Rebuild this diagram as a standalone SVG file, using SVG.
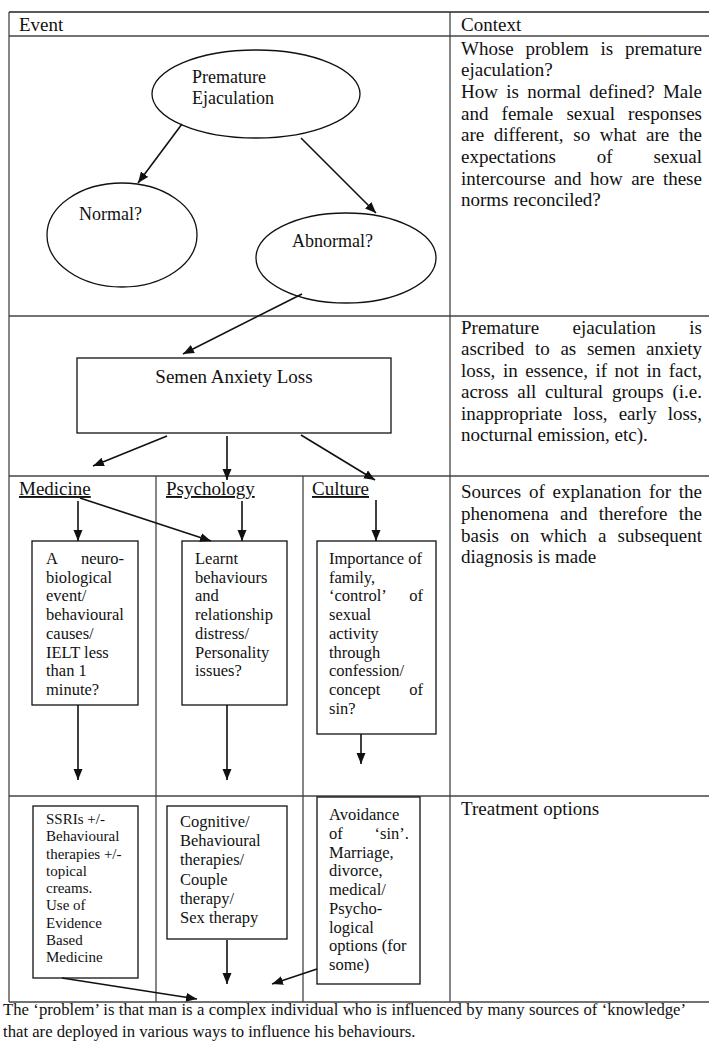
<svg xmlns="http://www.w3.org/2000/svg" width="709" height="1046" viewBox="0 0 709 1046">
<style>
  .t { font-family: "Liberation Serif", "Times New Roman", serif; fill: #111; }
  .h { font-size: 19px; }
  .e { font-size: 18px; }
  .b { font-size: 16.5px; }
  .s { font-size: 15px; }
  .f { font-size: 16.7px; }
  .u { text-decoration: underline; }
  .grid { stroke: #444; stroke-width: 1.3; fill: none; }
  .shape { stroke: #111; stroke-width: 1.3; fill: #fff; }
  .conn line { stroke: #111; stroke-width: 1.6; marker-end: url(#ah); }
</style>
<defs>
  <marker id="ah" markerUnits="userSpaceOnUse" markerWidth="12" markerHeight="10" refX="11" refY="4.5" orient="auto">
    <path d="M0,0 L11,4.5 L0,9 z" fill="#111"/>
  </marker>
</defs>
<rect width="709" height="1046" fill="#fff"/>

<g id="table">
  <line class="grid" x1="9" y1="12" x2="709" y2="12" style="stroke:#222"/>
  <line class="grid" x1="9" y1="36" x2="709" y2="36"/>
  <line class="grid" x1="9" y1="316" x2="709" y2="316"/>
  <line class="grid" x1="9" y1="476" x2="709" y2="476"/>
  <line class="grid" x1="9" y1="796" x2="709" y2="796"/>
  <line class="grid" x1="9" y1="1002" x2="709" y2="1002"/>
  <line class="grid" x1="9" y1="12" x2="9" y2="1002"/>
  <line class="grid" x1="450" y1="12" x2="450" y2="1002"/>
  <line class="grid" x1="156" y1="476" x2="156" y2="1002"/>
  <line class="grid" x1="303" y1="476" x2="303" y2="1002"/>
  <text class="t h" x="19" y="31">Event</text>
  <text class="t h" x="461" y="31">Context</text>
</g>

<g id="context1" class="t h">
  <text y="54.5"><tspan x="461">Whose</tspan><tspan x="525.5">problem</tspan><tspan x="600.6">is</tspan><tspan x="625">premature</tspan></text>
  <text x="461" y="76.2">ejaculation?</text>
  <text y="97.9"><tspan x="461">How</tspan><tspan x="506.2">is</tspan><tspan x="527.2">normal</tspan><tspan x="589.3">defined?</tspan><tspan x="662.9">Male</tspan></text>
  <text y="119.6"><tspan x="461">and</tspan><tspan x="501.6">female</tspan><tspan x="566.4">sexual</tspan><tspan x="628.1">responses</tspan></text>
  <text y="141.3"><tspan x="461">are</tspan><tspan x="493.7">different,</tspan><tspan x="573.3">so</tspan><tspan x="599.7">what</tspan><tspan x="646.1">are</tspan><tspan x="678.8">the</tspan></text>
  <text y="163"><tspan x="461">expectations</tspan><tspan x="596.8">of</tspan><tspan x="653.5">sexual</tspan></text>
  <text y="184.7"><tspan x="461">intercourse</tspan><tspan x="554">and</tspan><tspan x="589.9">how</tspan><tspan x="631.2">are</tspan><tspan x="662.9">these</tspan></text>
  <text x="461" y="206.4">norms reconciled?</text>
</g>

<g id="context2" class="t h">
  <text y="333.5"><tspan x="461">Premature</tspan><tspan x="572.5">ejaculation</tspan><tspan x="689.3">is</tspan></text>
  <text y="355"><tspan x="461">ascribed</tspan><tspan x="535">to</tspan><tspan x="560.4">as</tspan><tspan x="586.9">semen</tspan><tspan x="646.1">anxiety</tspan></text>
  <text y="376.5"><tspan x="461">loss,</tspan><tspan x="502.9">in</tspan><tspan x="525.2">essence,</tspan><tspan x="595.5">if</tspan><tspan x="614.6">not</tspan><tspan x="646.5">in</tspan><tspan x="668.8">fact,</tspan></text>
  <text y="398"><tspan x="461">across</tspan><tspan x="517.3">all</tspan><tspan x="545.1">cultural</tspan><tspan x="611.9">groups</tspan><tspan x="672.5">(i.e.</tspan></text>
  <text y="419.5"><tspan x="461">inappropriate</tspan><tspan x="573.3">loss,</tspan><tspan x="618.7">early</tspan><tspan x="667.7">loss,</tspan></text>
  <text x="461" y="441">nocturnal emission, etc).</text>
</g>

<g id="context3" class="t h">
  <text y="498.3"><tspan x="461">Sources</tspan><tspan x="528.9">of</tspan><tspan x="552.5">explanation</tspan><tspan x="648.9">for</tspan><tspan x="678.8">the</tspan></text>
  <text y="520"><tspan x="461">phenomena</tspan><tspan x="560">and</tspan><tspan x="598.8">therefore</tspan><tspan x="678.8">the</tspan></text>
  <text y="541.7"><tspan x="461">basis</tspan><tspan x="510.2">on</tspan><tspan x="540.3">which</tspan><tspan x="598">a</tspan><tspan x="617.6">subsequent</tspan></text>
  <text x="461" y="563.4">diagnosis is made</text>
</g>

<g id="context4" class="t h">
  <text x="461" y="815">Treatment options</text>
</g>

<g id="premature">
  <ellipse class="shape" cx="256" cy="94" rx="104" ry="44"/>
  <text class="t e" x="192" y="83">Premature</text>
  <text class="t e" x="192" y="104">Ejaculation</text>
</g>
<g id="normal">
  <ellipse class="shape" cx="122" cy="235" rx="75" ry="52"/>
  <text class="t e" x="79" y="220">Normal?</text>
</g>
<g id="abnormal">
  <ellipse class="shape" cx="346" cy="258" rx="90" ry="45"/>
  <text class="t e" x="292" y="247">Abnormal?</text>
</g>

<g id="semen">
  <rect class="shape" x="77" y="358" width="314" height="75"/>
  <text class="t h" x="234" y="383" text-anchor="middle">Semen Anxiety Loss</text>
</g>

<g id="medicine-head"><text class="t h u" x="19" y="495">Medicine</text></g>
<g id="psychology-head"><text class="t h u" x="166" y="495">Psychology</text></g>
<g id="culture-head"><text class="t h u" x="312" y="495">Culture</text></g>

<g id="medicine-cause" class="t b">
  <rect class="shape" x="32" y="541" width="106" height="164"/>
  <text y="564"><tspan x="46">A</tspan><tspan x="81">neuro-</tspan></text>
  <text x="46" y="582.7">biological</text>
  <text x="46" y="601.4">event/</text>
  <text x="46" y="620.1">behavioural</text>
  <text x="46" y="638.8">causes/</text>
  <text x="46" y="657.5">IELT less</text>
  <text x="46" y="676.2">than 1</text>
  <text x="46" y="694.9">minute?</text>
</g>

<g id="psychology-cause" class="t b">
  <rect class="shape" x="182" y="541" width="105" height="164"/>
  <text x="195" y="564">Learnt</text>
  <text x="195" y="582.7">behaviours</text>
  <text x="195" y="601.4">and</text>
  <text x="195" y="620.1">relationship</text>
  <text x="195" y="638.8">distress/</text>
  <text x="195" y="657.5">Personality</text>
  <text x="195" y="676.2">issues?</text>
</g>

<g id="culture-cause" class="t b">
  <rect class="shape" x="317" y="541" width="119" height="193"/>
  <text x="329" y="564">Importance of</text>
  <text x="329" y="582.7">family,</text>
  <text y="601.4"><tspan x="329">‘control’</tspan><tspan x="409.3">of</tspan></text>
  <text x="329" y="620.1">sexual</text>
  <text x="329" y="638.8">activity</text>
  <text x="329" y="657.5">through</text>
  <text x="329" y="676.2">confession/</text>
  <text y="694.9"><tspan x="329">concept</tspan><tspan x="409.3">of</tspan></text>
  <text x="329" y="713.6">sin?</text>
</g>

<g id="medicine-treatment" class="t s">
  <rect class="shape" x="33" y="806" width="105" height="172"/>
  <text x="46" y="824">SSRIs +/-</text>
  <text x="46" y="841.25">Behavioural</text>
  <text x="46" y="858.5">therapies +/-</text>
  <text x="46" y="875.75">topical</text>
  <text x="46" y="893">creams.</text>
  <text x="46" y="910.25">Use of</text>
  <text x="46" y="927.5">Evidence</text>
  <text x="46" y="944.75">Based</text>
  <text x="46" y="962">Medicine</text>
</g>

<g id="psychology-treatment" class="t b">
  <rect class="shape" x="167" y="806" width="120" height="133"/>
  <text x="180" y="827">Cognitive/</text>
  <text x="180" y="846.2">Behavioural</text>
  <text x="180" y="865.4">therapies/</text>
  <text x="180" y="884.6">Couple</text>
  <text x="180" y="903.8">therapy/</text>
  <text x="180" y="923">Sex therapy</text>
</g>

<g id="culture-treatment" class="t b">
  <rect class="shape" x="317" y="797" width="103" height="187"/>
  <text x="329" y="820">Avoidance</text>
  <text y="838.75"><tspan x="329">of</tspan><tspan x="374.6">‘sin’.</tspan></text>
  <text x="329" y="857.5">Marriage,</text>
  <text x="329" y="876.25">divorce,</text>
  <text x="329" y="895">medical/</text>
  <text x="329" y="913.75">Psycho-</text>
  <text x="329" y="932.5">logical</text>
  <text x="329" y="951.25">options (for</text>
  <text x="329" y="970">some)</text>
</g>

<g id="footer" class="t f">
  <text x="3" y="1015" word-spacing="0.25">The ‘problem’ is that man is a complex individual who is influenced by many sources of ‘knowledge’</text>
  <text x="3" y="1037">that are deployed in various ways to influence his behaviours.</text>
</g>

<g id="connectors" class="conn">
  <line x1="182" y1="124" x2="138" y2="183"/>
  <line x1="301" y1="138" x2="376" y2="213"/>
  <line x1="302" y1="294" x2="183" y2="354"/>
  <line x1="167" y1="436" x2="93" y2="466"/>
  <line x1="227" y1="436" x2="227" y2="480"/>
  <line x1="301" y1="435" x2="375" y2="480"/>
  <line x1="78" y1="501" x2="78" y2="541"/>
  <line x1="80" y1="498" x2="211" y2="541"/>
  <line x1="242" y1="501" x2="242" y2="541"/>
  <line x1="376" y1="500" x2="376" y2="541"/>
  <line x1="78" y1="705" x2="78" y2="780"/>
  <line x1="227" y1="705" x2="227" y2="780"/>
  <line x1="361" y1="734" x2="361" y2="764"/>
  <line x1="227" y1="940" x2="227" y2="984"/>
  <line x1="62" y1="978" x2="197" y2="999"/>
  <line x1="317" y1="969" x2="272" y2="984"/>
</g>
</svg>
